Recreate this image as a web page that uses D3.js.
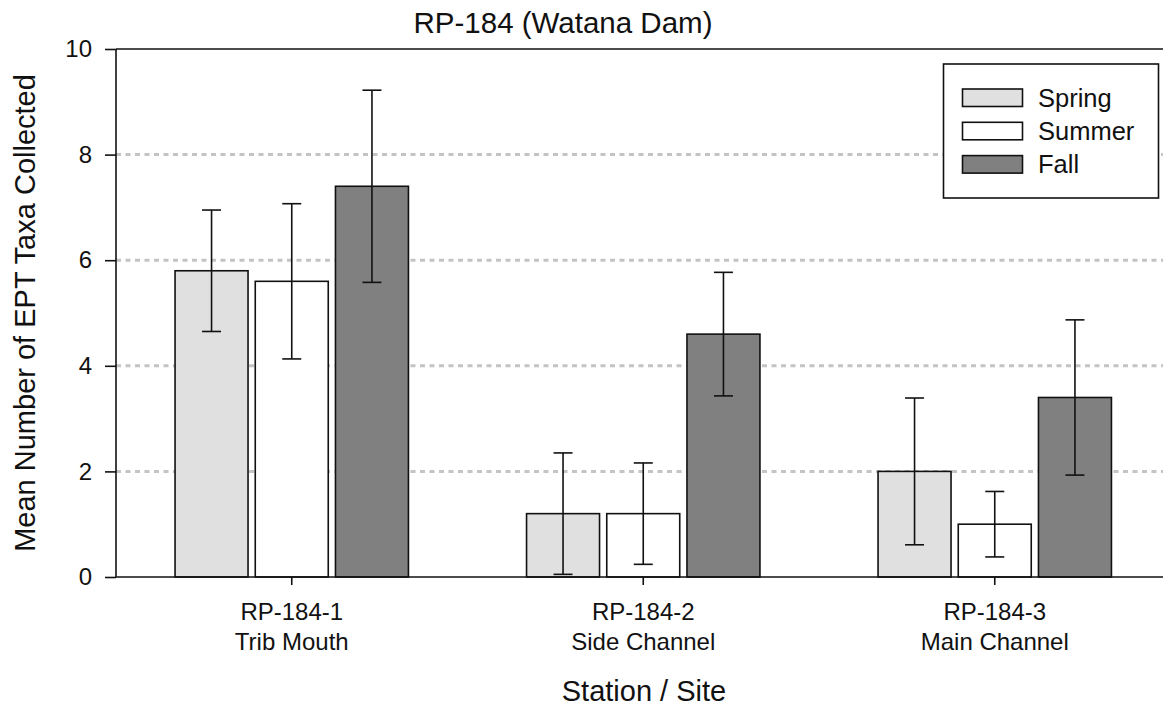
<!DOCTYPE html>
<html>
<head>
<meta charset="utf-8">
<script src="https://cdn.jsdelivr.net/npm/d3@7"></script>
<style>
  html, body { margin: 0; padding: 0; background: #fff; }
  svg { display: block; font-family: Arial, "Liberation Sans", sans-serif; }
</style>
</head>
<body>
<svg id="chart" width="1163" height="708"></svg>
<script>
// Station / site categories (two-line labels)
const stations = ["RP-184-1", "RP-184-2", "RP-184-3"];
const sites = ["Trib Mouth", "Side Channel", "Main Channel"];
const seasons = ["Spring", "Summer", "Fall"];

// Mean number of EPT taxa per season, one entry per station
const springMean = [5.8, 1.2, 2.0];
const summerMean = [5.6, 1.2, 1.0];
const fallMean   = [7.4, 4.6, 3.4];

// Error-bar half widths (± around the mean)
const springErr = [1.15, 1.15, 1.39];
const summerErr = [1.47, 0.96, 0.62];
const fallErr   = [1.82, 1.17, 1.47];

const yTicks = [0, 2, 4, 6, 8, 10];
const gridValues = [2, 4, 6, 8];
const seasonFill = { Spring: "#e0e0e0", Summer: "#ffffff", Fall: "#808080" };

const means = { Spring: springMean, Summer: summerMean, Fall: fallMean };
const errs = { Spring: springErr, Summer: summerErr, Fall: fallErr };

const W = 1163, H = 708;
const plotL = 116, plotR = 1170.5, plotT = 49, plotB = 577;

const svg = d3.select("#chart");

const x0 = d3.scaleBand().domain(stations).range([plotL, plotR])
  .paddingInner(0.336).paddingOuter(0.168);
const x1 = d3.scaleBand().domain(seasons).range([0, x0.bandwidth()])
  .paddingInner(0.09).paddingOuter(0);
const y = d3.scaleLinear().domain([0, 10]).range([plotB, plotT]);

// Dotted horizontal grid
svg.append("g").selectAll("line").data(gridValues).join("line")
  .attr("x1", plotL).attr("x2", W)
  .attr("y1", d => y(d)).attr("y2", d => y(d))
  .attr("stroke", "#c4c4c4").attr("stroke-width", 3)
  .attr("stroke-dasharray", "5,4.5");

// Bars and error bars
const rows = [];
stations.forEach((st, i) => seasons.forEach(se => rows.push({
  station: st, season: se, mean: means[se][i], err: errs[se][i]
})));

const g = svg.append("g");
g.selectAll("rect").data(rows).join("rect")
  .attr("x", d => x0(d.station) + x1(d.season))
  .attr("y", d => y(d.mean))
  .attr("width", x1.bandwidth())
  .attr("height", d => y(0) - y(d.mean))
  .attr("fill", d => seasonFill[d.season])
  .attr("stroke", "#111").attr("stroke-width", 1.6);

const capHalf = 9.5;
const eb = svg.append("g").attr("stroke", "#111").attr("stroke-width", 1.6);
rows.forEach(d => {
  const cx = x0(d.station) + x1(d.season) + x1.bandwidth() / 2;
  const y1 = y(d.mean + d.err), y2 = y(Math.max(0, d.mean - d.err));
  eb.append("line").attr("x1", cx).attr("x2", cx).attr("y1", y1).attr("y2", y2);
  eb.append("line").attr("x1", cx - capHalf).attr("x2", cx + capHalf).attr("y1", y1).attr("y2", y1);
  eb.append("line").attr("x1", cx - capHalf).attr("x2", cx + capHalf).attr("y1", y2).attr("y2", y2);
});

// Y axis
const yAxis = svg.append("g").attr("transform", `translate(${plotL},0)`)
  .call(d3.axisLeft(y).tickValues(yTicks).tickSize(11).tickPadding(13).tickFormat(d3.format("d")));
yAxis.select(".domain").attr("stroke", "#111").attr("stroke-width", 1.6)
  .attr("d", `M0,${plotT}V${plotB}`);
yAxis.selectAll(".tick line").attr("stroke", "#111").attr("stroke-width", 1.6);
yAxis.selectAll(".tick text").attr("font-size", 24).attr("fill", "#111")
  .attr("font-family", "Arial, 'Liberation Sans', sans-serif");

// Top and bottom frame lines
svg.append("line").attr("x1", plotL).attr("x2", W).attr("y1", plotT).attr("y2", plotT)
  .attr("stroke", "#111").attr("stroke-width", 1.6);
svg.append("line").attr("x1", plotL).attr("x2", W).attr("y1", plotB).attr("y2", plotB)
  .attr("stroke", "#111").attr("stroke-width", 1.6);

// X axis ticks and two-line labels
const xAxis = svg.append("g").attr("transform", `translate(0,${plotB})`)
  .call(d3.axisBottom(x0).tickSize(8).tickFormat(""));
xAxis.select(".domain").remove();
xAxis.selectAll(".tick line").attr("stroke", "#111").attr("stroke-width", 1.6);
const xl = svg.append("g").attr("font-size", 24).attr("fill", "#111").attr("text-anchor", "middle");
stations.forEach((st, i) => {
  const cx = x0(st) + x0.bandwidth() / 2;
  xl.append("text").attr("x", cx).attr("y", 620).text(st);
  xl.append("text").attr("x", cx).attr("y", 650).text(sites[i]);
});

// Axis titles and chart title
svg.append("text").attr("x", 644).attr("y", 701).attr("text-anchor", "middle")
  .attr("font-size", 29).attr("fill", "#111").text("Station / Site");
svg.append("text").attr("transform", `translate(35,${(plotT + plotB) / 2}) rotate(-90)`)
  .attr("text-anchor", "middle").attr("font-size", 29).attr("fill", "#111")
  .text("Mean Number of EPT Taxa Collected");
svg.append("text").attr("x", 563).attr("y", 33).attr("text-anchor", "middle")
  .attr("font-size", 29.5).attr("fill", "#111").text("RP-184 (Watana Dam)");

// Legend
const lg = svg.append("g");
lg.append("rect").attr("x", 943.5).attr("y", 64).attr("width", 215).attr("height", 134)
  .attr("fill", "#fff").attr("stroke", "#111").attr("stroke-width", 1.6);
seasons.forEach((se, i) => {
  const ry = 89 + i * 33.3;
  lg.append("rect").attr("x", 962.5).attr("y", ry).attr("width", 60).attr("height", 17.5)
    .attr("fill", seasonFill[se]).attr("stroke", "#111").attr("stroke-width", 1.6);
  lg.append("text").attr("x", 1038).attr("y", ry + 17.5).attr("font-size", 25.5)
    .attr("fill", "#111").text(se);
});
</script>
</body>
</html>
